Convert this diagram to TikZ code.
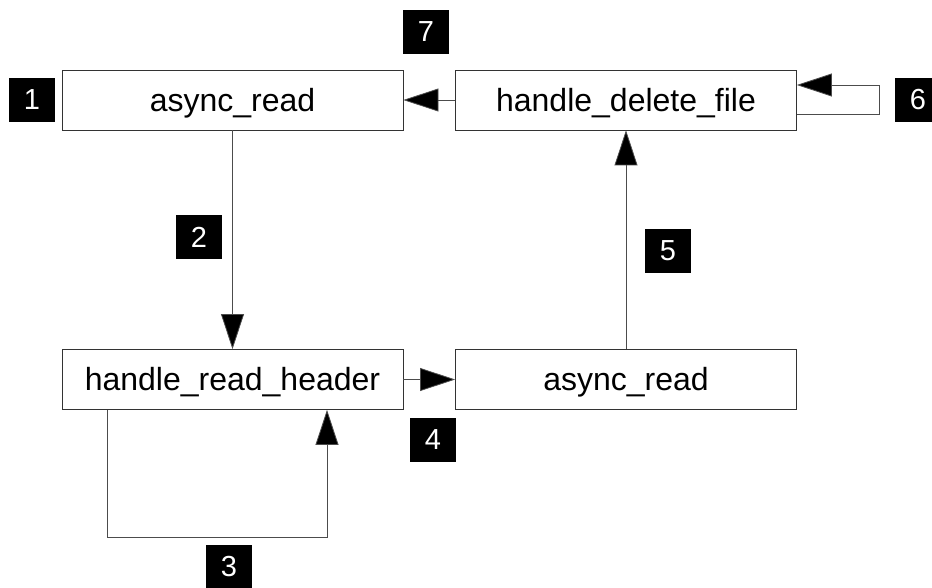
\documentclass[tikz,border=0pt]{standalone}
\usepackage{fontspec}
\setmainfont{Liberation Sans}
\usetikzlibrary{arrows.meta}
\begin{document}
\begin{tikzpicture}[x=1pt,y=-1pt,
  fnbox/.style={draw=black!80, line width=0.8pt, minimum width=341pt, minimum height=60pt,
    inner sep=0pt, text height=26pt, text depth=3.5pt, font=\fontsize{32}{36}\selectfont},
  badge/.style={fill=black, text=white, minimum width=46pt, minimum height=44pt,
    inner sep=0pt, font=\fontsize{29}{32}\selectfont},
  arr/.style={draw=black!70, line width=0.8pt, -{Triangle[length=35pt,width=23pt,fill=black]}}]
\useasboundingbox (0,0) rectangle (932,588);
\clip (0,0) rectangle (932,588);

% function boxes
\node[fnbox] (rd1) at (232.5,100) {async\_read};
\node[fnbox] (del) at (626,100) {handle\_delete\_file};
\node[fnbox] (hdr) at (232.5,379.5) {handle\_read\_header};
\node[fnbox] (rd2) at (626,379.5) {async\_read};

% step badges
\node[badge] (n1) at (32,100) {1};
\node[badge] (n2) at (199,237) {2};
\node[badge] (n3) at (229,567) {3};
\node[badge] (n4) at (433,440) {4};
\node[badge] (n5) at (668,251) {5};
\node[badge] (n6) at (918,100) {6};
\node[badge] (n7) at (426,32) {7};

% control flow
\draw[arr] (rd1.south) -- (hdr.north);
\draw[arr] (hdr.east) -- (rd2.west);
\draw[arr] (rd2.north) -- (del.south);
\draw[arr] (del.west) -- (rd1.east);

% loop on handle_delete_file
\coordinate (b1) at (879,114);
\coordinate (b2) at (879,85);
\draw[arr] (del.east |- b1) -- (b1) -- (b2) -- (del.east |- b2);

% loop on handle_read_header
\coordinate (c1) at (107,537);
\coordinate (c2) at (327,537);
\draw[arr] (c1 |- hdr.south) -- (c1) -- (c2) -- (c2 |- hdr.south);
\end{tikzpicture}
\end{document}
